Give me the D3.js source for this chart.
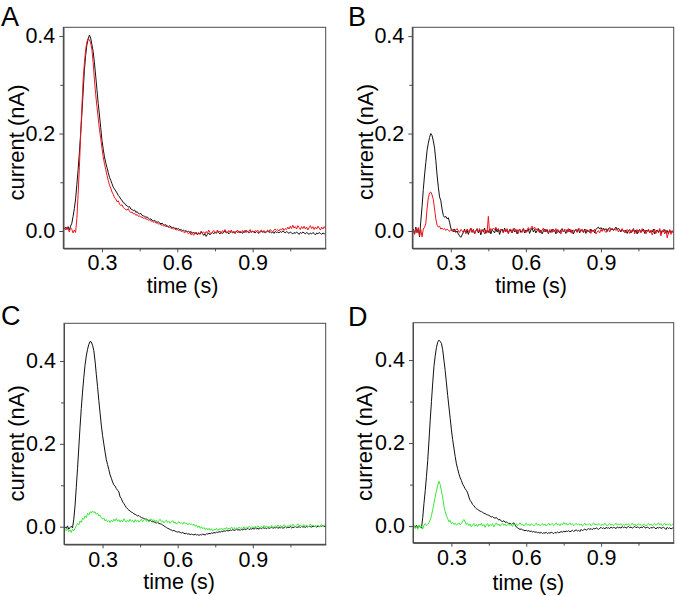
<!DOCTYPE html>
<html>
<head>
<meta charset="utf-8">
<script src="https://cdn.jsdelivr.net/npm/d3@7"></script>
<style>
  html, body { margin: 0; padding: 0; background: #fff; }
  svg { display: block; }
</style>
</head>
<body>
<svg id="chart" width="677" height="596"></svg>
<script>
// ---------------- data ----------------
// sampling grid of the traces (s): t = sampleStart + i * sampleStep
const sampleStart = 0.15;
const sampleStep = 0.005;

const timeTicks = [0.3, 0.6, 0.9];
const timeMinorTicks = [0.45, 0.75, 1.05];
const currentTicks = [0.0, 0.2, 0.4];
const currentMinorTicks = [0.1, 0.3];
const panelLetters = ["A", "B", "C", "D"];
const xLabel = "time (s)";
const yLabel = "current (nA)";

// Panel A (nA)
const panelABlack = [
 .004,.008,.003,.009,.002,.010,
 .016,.030,.046,.066,.095,.126,.160,.200,.240,.285,.330,.360,.382,.394,.402,
 .396,.382,.368,.345,.318,.290,.262,.238,.212,.186,.168,.152,.140,.130,.120,.110,.104,.097,.090,.086,
 .082,.078,.073,.070,.065,.063,.058,.057,.053,.052,.049,.050,.045,.044,.042,.043,.038,.040,.036,.035,
 .036,.032,.031,.030,.028,.029,.026,.024,.025,.022,.021,.022,.019,.018,.019,.016,.015,.016,.013,.012,
 .013,.010,.009,.011,.008,.007,.008,.005,.006,.004,.005,.002,.003,.001,.002,-.001,.001,-.002,.000,-.003,
 -.001,-.005,-.002,-.006,-.003,-.008,-.004,-.007,-.002,-.005,
 -.009,-.006,-.011,-.007,-.004,-.008,-.005,-.003,-.006,-.002,
 -.005,-.001,-.004,-.006,-.002,-.005,-.003,.000,-.004,-.002,
 -.006,-.003,-.001,-.004,-.002,-.005,.000,-.003,-.001,-.004,
 -.002,-.005,-.001,-.003,.001,-.002,-.004,-.001,-.003,.000,
 -.002,-.004,-.001,-.003,-.005,-.002,.000,-.003,-.001,-.004,
 -.002,.000,-.003,-.001,-.004,-.002,-.005,-.001,-.003,-.002,
 -.004,-.001,-.003,.000,-.002,-.004,-.001,-.003,-.005,-.002,
 -.004,-.006,-.003,-.005,-.002,-.004,-.007,-.003,-.005,-.002,
 -.004,-.006,-.003,-.005,-.007,-.004,-.006,-.003,-.005,-.008,
 -.004,-.006,-.003,-.005,-.007,-.004,-.006,-.005
];
const panelARed = [
 .006,.002,.008,.004,-.002,.007,
 .003,-.004,.002,-.003,
 .025,.075,.130,.195,.255,.310,.345,.372,.388,.395,
 .392,.386,.372,.345,.310,.280,.255,.232,.208,.190,
 .170,.152,.138,.126,.114,.104,.094,.088,.080,.075,
 .068,.066,.060,.062,.055,.052,.054,.048,.046,.044,
 .043,.046,.040,.038,.039,.035,.036,.032,.034,.030,.031,
 .028,.029,.026,.027,.024,.025,.022,.023,.020,.021,.018,.019,.016,.017,.014,.015,.012,.013,.010,.011,
 .009,.010,.007,.008,.005,.006,.004,.005,.002,.003,.001,.002,-.001,.000,-.002,-.004,.000,-.003,-.006,-.002,
 -.008,-.004,-.009,-.005,-.002,-.007,-.003,-.006,.000,-.004,
 -.002,-.006,-.001,-.005,.002,-.003,-.006,-.002,.001,-.004,
 -.001,.002,-.003,.000,-.005,.001,-.002,.003,-.001,-.004,
 .001,-.002,.002,-.003,.000,-.005,-.001,.002,-.003,.000,
 -.004,.001,-.002,.002,-.003,.000,-.001,.003,-.002,.000,
 -.003,.001,-.001,.002,-.004,.000,.002,-.002,.001,-.003,
 .000,.002,-.001,.003,.000,-.002,.002,.004,.001,.003,
 .000,.004,.002,.006,.001,.005,.003,.008,.004,.010,
 .005,.012,.006,.009,.004,.011,.007,.003,.009,.005,
 .010,.004,.008,.002,.007,.011,.005,.009,.003,.008,
 .004,.010,.006,.002,.008,.004,.009,.005
];

// Panel B (nA)
const panelBBlack = [
 .004,-.006,.008,-.003,.005,
 -.012,
 .020,.050,.085,.115,.140,.165,.180,.192,.200,.196,
 .185,.170,.145,.115,.090,.070,.062,.045,.032,.028,
 .030,.025,.027,.018,.006,.002,-.002,.004,-.003,.000,
 -.006,-.010,-.013,-.008,-.003,
 .004,-.005,.002,-.007,.001,.006,-.003,.003,-.006,.000,
 .005,-.004,.002,-.008,.003,-.002,.006,-.005,.001,-.003,
 .004,-.006,.002,.000,-.004,.005,-.002,.003,-.007,.001,
 .004,-.003,.006,-.001,.002,-.005,.003,.000,-.004,.005,
 -.002,.003,-.006,.001,.004,-.003,.000,.005,-.004,.002,
 -.001,.004,-.005,.002,.006,-.002,.003,-.004,.001,.005,
 -.003,.002,-.006,.000,.004,-.002,.003,-.005,.001,-.003,
 .004,-.001,.002,-.006,.003,.000,-.004,.002,.005,-.002,
 .001,-.005,.003,-.001,.004,-.003,.002,-.006,.000,.003,
 -.002,.005,-.004,.001,.003,-.002,.004,-.005,.002,.000,
 -.003,.004,-.001,.002,-.004,.003,.006,.008,.004,.007,
 .003,.006,.002,.005,-.001,.004,.007,.002,.005,.001,
 .004,.008,.003,.006,.002,-.002,.004,.000,-.003,.002,
 -.005,.001,.003,-.004,.000,.005,-.002,.002,-.006,.001,
 .003,-.003,.000,.004,-.005,.002,-.001,.003,-.004,.001,
 -.002,.004,-.006,.000,.002,-.003,.003,-.005,.001,-.002,
 .003,-.004,.001,-.006,.002,-.003,.000,-.004
];
const panelBRed = [
 .002,-.007,.005,-.004,.007,-.010,.003,-.012,.004,.008,
 .015,.045,.068,.078,.080,.074,.065,.045,.025,.012,.008,.010,.004,.006,
 .003,.005,.001,.004,.002,-.001,.003,.000,.004,-.002,.002,.005,.000,-.003,.003,.001,-.004,
 .002,-.005,.004,.000,-.003,.006,-.002,.003,-.006,.001,
 .004,-.002,.005,-.004,.001,.003,-.006,.002,-.003,.030,
 -.004,.005,.002,.006,.003,.008,.002,.005,-.001,.004,
 .000,-.004,.003,-.002,.005,-.005,.002,.004,-.003,.001,
 .006,-.002,.003,-.005,.004,.001,-.003,.005,.000,-.004,
 .003,.007,.002,.006,.010,.004,.008,.002,.005,-.001,
 .003,-.004,.002,.006,-.002,.004,.000,-.005,.003,.001,
 -.003,.004,-.001,.005,-.004,.002,.000,-.006,.003,-.002,
 .004,.001,-.003,.005,-.002,.003,-.005,.002,.000,.004,
 -.003,.002,.005,-.001,.003,-.004,.001,.004,-.002,.000,
 .003,-.005,.002,-.001,.004,-.006,-.002,.001,-.004,.003,
 -.001,.004,.000,-.003,.002,.005,-.002,.003,.006,.002,
 .005,.001,.004,-.002,.003,.000,.005,-.001,.002,-.004,
 .003,.000,-.005,.002,-.002,.004,-.006,.001,.003,-.004,
 .002,-.003,.005,-.001,.002,-.006,.000,.003,-.004,.002,
 -.008,-.002,.004,-.005,.001,-.003,.005,-.010,-.001,.003,
 -.006,.002,-.014,-.004,.003,-.007,.001,-.005
];

// Panel C (nA)
const panelCBlack = [
 .000,-.004,.002,-.006,-.002,.001,-.003,
 .018,.050,.095,.140,.190,.240,.285,.325,.360,.390,
 .412,.428,.440,.447,.446,.438,.425,.400,.368,.338,
 .305,.275,.245,.220,.200,.180,.162,.150,.138,.125,
 .117,.108,.101,.098,.092,.088,.084,.072,.068,.060,
 .056,.051,.046,.043,
 .040,.038,.035,.034,.031,.030,.028,.026,.027,.024,
 .022,.021,.020,.018,.019,.016,.015,.016,.013,.012,
 .012,.010,.009,.010,.008,.007,.006,.004,.002,.000,
 -.002,-.004,-.005,-.007,-.008,-.010,-.009,-.011,-.012,-.013,
 -.012,-.014,-.015,-.014,-.016,-.017,-.016,-.018,-.017,-.019,
 -.018,-.019,-.020,-.018,-.020,-.019,-.021,-.019,-.020,-.018,
 -.019,-.020,-.017,-.018,-.016,-.017,-.015,-.016,-.014,-.015,
 -.013,-.014,-.012,-.013,-.011,-.012,-.010,-.011,-.009,-.010,
 -.010,-.008,-.009,-.007,-.009,-.008,-.006,-.008,-.007,-.009,
 -.006,-.008,-.005,-.007,-.006,-.004,-.007,-.005,-.006,-.004,
 -.006,-.003,-.005,-.004,-.006,-.003,-.005,-.002,-.004,-.003,
 -.005,-.002,-.004,-.003,-.001,-.004,-.002,-.003,-.001,-.004,
 -.002,-.003,-.001,-.004,-.002,.000,-.003,-.001,-.002,.000,
 -.003,-.001,-.002,.001,-.002,-.001,.000,-.002,.001,-.001,
 .000,-.002,.001,-.001,.002,.000,-.001,.001,.000,.002,
 -.001,.001,.000,.002,.001,.003,.000,.002
];
const panelCGreen = [
 -.006,-.010,-.004,-.012,-.008,-.014,-.006,-.010,-.004,.002,
 .008,.004,.014,.010,.020,.018,.026,.022,.032,.028,
 .036,.033,.038,.034,.036,.030,.033,.026,.028,.022,
 .018,.021,.014,.017,.012,.015,.010,.016,.012,.018,.014,
 .020,.013,.017,.011,.016,.012,.019,.014,.011,.016,
 .012,.018,.013,.015,.010,.017,.012,.016,.011,.014,
 .018,.012,.016,.020,.013,.017,.011,.015,.019,.014,
 .017,.012,.016,.010,.015,.018,.012,.014,.009,.013,
 .016,.010,.013,.008,.012,.015,.009,.011,.006,.010,
 .012,.008,.010,.006,.011,.007,.009,.004,.008,.005,
 .007,.003,.006,.001,.004,-.002,.002,-.004,.000,-.005,
 -.002,-.007,-.003,-.008,-.004,-.009,-.005,-.010,-.006,-.008,
 -.004,-.009,-.005,-.007,-.003,-.008,-.004,-.006,-.002,-.007,
 -.003,-.006,-.001,-.005,-.002,-.006,-.003,-.005,-.001,-.004,
 -.002,-.005,.000,-.004,-.001,-.003,.001,-.002,-.004,.000,
 -.003,.001,-.002,.002,-.001,-.004,.001,-.002,.003,-.001,
 .002,-.002,.001,-.003,.003,.000,-.002,.002,-.001,.004,
 .000,.003,-.002,.002,.005,.001,-.001,.003,.000,.004,
 .001,.006,.002,-.001,.003,.007,.002,.004,.000,.003,
 .005,.001,.004,-.001,.002,.006,.002,.004,.000,.003,
 .001,.004,-.001,.003,.005,.001,.004,.002
];

// Panel D (nA)
const panelDBlack = [
 .001,-.003,.002,-.004,.000,-.002,-.005,
 .020,.055,.085,.120,.158,.205,.255,.300,.345,.385,
 .410,.430,.443,.448,.445,.440,.425,.400,.375,.345,
 .315,.287,.260,.232,.208,.188,.168,.150,.138,.126,
 .116,.110,.101,.096,.090,.086,.080,.070,.062,.058,
 .052,.049,.045,.042,
 .040,.038,.036,.035,.033,.031,.030,.028,.027,.026,
 .024,.022,.023,.020,.019,.021,.017,.015,.016,.012,
 .011,.013,.009,.010,.008,.006,.007,.004,.006,.008,
 .003,-.002,-.004,-.006,-.008,-.007,-.009,-.010,-.011,-.010,
 -.012,-.011,-.013,-.012,-.014,-.013,-.015,-.014,-.016,-.015,
 -.017,-.015,-.018,-.016,-.017,-.015,-.018,-.016,-.017,-.015,
 -.016,-.018,-.015,-.017,-.014,-.016,-.015,-.013,-.015,-.012,
 -.014,-.012,-.013,-.011,-.014,-.012,-.010,-.013,-.011,-.009,
 -.012,-.010,-.013,-.008,-.011,-.009,-.007,-.010,-.008,-.006,
 -.008,-.006,-.009,-.005,-.007,-.004,-.006,-.008,-.005,-.003,
 -.006,-.004,-.007,-.003,-.005,-.004,-.006,-.002,-.005,-.003,
 -.004,-.006,-.002,-.004,-.003,-.005,-.001,-.004,-.002,-.005,
 -.003,-.001,-.004,-.002,-.005,-.003,-.001,-.004,-.002,-.003,
 -.005,-.002,-.004,-.001,-.003,-.005,-.002,-.004,-.006,-.003,
 -.005,-.002,-.004,-.007,-.003,-.005,-.002,-.006,-.004,-.003,
 -.005,-.008,-.003,-.006,-.004,-.007,-.005,-.004
];
const panelDGreen = [
 .002,-.006,-.001,-.008,.003,-.004,.000,-.007,.002,.006,.001,.004,.008,
 .015,.025,.040,.055,.070,.085,.098,.108,.100,.085,.068,.048,.035,.025,.018,.010,.014,.006,
 .009,.004,.007,.002,.005,.008,.003,.006,.012,.016,
 .010,.004,.007,.001,.005,-.002,.003,.006,.000,.004,
 -.001,.005,.002,.007,.000,.004,-.003,.003,.006,-.001,
 .004,.001,.006,-.002,.003,.008,.002,.005,.000,.004,
 .007,.002,.005,.000,.003,.006,.001,.004,-.001,.005,
 .002,.006,.001,.004,.008,.003,.005,.000,.004,.007,
 .002,.005,.001,.006,.003,.000,.004,.007,.002,.005,
 .001,.004,.006,.002,.005,.000,.003,.007,.002,.004,
 .006,.001,.004,.008,.003,.005,.001,.006,.003,.009,
 .004,.007,.002,.005,.008,.003,.006,.001,.004,.007,
 .003,.006,.002,.005,.000,.004,.007,.002,.005,.003,
 .006,.001,.004,.008,.003,.005,.002,.006,.004,.001,
 .005,.002,.007,.003,.000,.004,.006,.002,.005,.001,
 .004,.007,.002,.005,.003,.006,.001,.004,.002,.005,
 .003,.006,.001,.004,.007,.002,.005,.000,.003,.006,
 .002,.004,.001,.005,.003,.000,.004,.007,.002,.005,
 .001,.004,.006,.002,.005,.008,.003,.006,.001,.004,
 .007,.002,.005,.003,.006,.001,.004,.003
];

// ---------------- layout ----------------
const BLACK = "#111111", RED = "#f0141e", GREEN = "#3ae63a", AXIS = "#4a4a4a";
const FONT = "'Liberation Sans', Arial, Helvetica, sans-serif";
const xDomain = [0.146, 1.191];

const panels = [
  { letter: panelLetters[0], left: 63.3, right: 325.7, top: 27.3, bottom: 248.3, yDomain: [-0.0355, 0.418],
    letterPos: [1, 26], yLabelPos: [24, 142.5], xLabelPos: [182.5, 293], tickPad: 2,
    series: [{ values: panelABlack, color: BLACK }, { values: panelARed, color: RED }] },
  { letter: panelLetters[1], left: 412.3, right: 673.7, top: 27.3, bottom: 248.3, yDomain: [-0.0355, 0.418],
    letterPos: [348, 26], yLabelPos: [372.5, 142], xLabelPos: [531.2, 293], tickPad: 2,
    series: [{ values: panelBBlack, color: BLACK }, { values: panelBRed, color: RED }] },
  { letter: panelLetters[2], left: 64, right: 325.7, top: 323.3, bottom: 544.3, yDomain: [-0.0425, 0.491],
    letterPos: [1, 325], yLabelPos: [24, 443.3], xLabelPos: [179.2, 589], tickPad: 3,
    series: [{ values: panelCBlack, color: BLACK }, { values: panelCGreen, color: GREEN }] },
  { letter: panelLetters[3], left: 413, right: 673.7, top: 322.7, bottom: 542.7, yDomain: [-0.040, 0.490],
    letterPos: [348, 326], yLabelPos: [372, 443], xLabelPos: [528.3, 589.5], tickPad: 3,
    series: [{ values: panelDBlack, color: BLACK }, { values: panelDGreen, color: GREEN }] }
];

const svg = d3.select("#chart");
svg.append("rect").attr("width", 677).attr("height", 596).attr("fill", "#fff");

panels.forEach((p, pi) => {
  const x = d3.scaleLinear().domain(xDomain).range([p.left, p.right]);
  const y = d3.scaleLinear().domain(p.yDomain).range([p.bottom, p.top]);
  const g = svg.append("g");

  const clipId = "clip" + pi;
  svg.append("clipPath").attr("id", clipId)
    .append("rect").attr("x", p.left).attr("y", p.top)
    .attr("width", p.right - p.left).attr("height", p.bottom - p.top);

  const line = d3.line()
    .x((d, i) => x(sampleStart + i * sampleStep))
    .y(d => y(d));

  const traces = g.append("g").attr("clip-path", `url(#${clipId})`);
  p.series.forEach(s => {
    traces.append("path")
      .datum(s.values)
      .attr("fill", "none")
      .attr("stroke", s.color)
      .attr("stroke-width", 1)
      .attr("stroke-linejoin", "round")
      .attr("d", line);
  });

  // frame
  g.append("rect")
    .attr("x", p.left).attr("y", p.top)
    .attr("width", p.right - p.left).attr("height", p.bottom - p.top)
    .attr("fill", "none").attr("stroke", AXIS).attr("stroke-width", 1);

  // x axis
  const xAxis = g.append("g").attr("transform", `translate(0,${p.bottom})`)
    .call(d3.axisBottom(x).tickValues(timeTicks).tickSizeInner(4).tickSizeOuter(0).tickPadding(p.tickPad)
      .tickFormat(d3.format(".1f")));
  const xMinor = g.append("g").attr("transform", `translate(0,${p.bottom})`)
    .call(d3.axisBottom(x).tickValues(timeMinorTicks).tickSizeInner(3).tickSizeOuter(0).tickFormat(""));

  // y axis
  const yAxis = g.append("g").attr("transform", `translate(${p.left},0)`)
    .call(d3.axisLeft(y).tickValues(currentTicks).tickSizeInner(4).tickSizeOuter(0).tickPadding(4)
      .tickFormat(d3.format(".1f")));
  const yMinor = g.append("g").attr("transform", `translate(${p.left},0)`)
    .call(d3.axisLeft(y).tickValues(currentMinorTicks).tickSizeInner(3).tickSizeOuter(0).tickFormat(""));

  [xAxis, xMinor, yAxis, yMinor].forEach(a => {
    a.select(".domain").attr("stroke", AXIS);
    a.selectAll(".tick line").attr("stroke", AXIS);
    a.selectAll("text").attr("font-family", FONT).attr("font-size", 21.5).attr("fill", "#000");
    a.attr("font-family", FONT).attr("font-size", 21.5);
  });

  // labels
  g.append("text")
    .attr("x", p.xLabelPos[0]).attr("y", p.xLabelPos[1])
    .attr("text-anchor", "middle")
    .attr("font-family", FONT).attr("font-size", 21.5).attr("fill", "#000")
    .text(xLabel);

  g.append("text")
    .attr("transform", `translate(${p.yLabelPos[0]},${p.yLabelPos[1]}) rotate(-90)`)
    .attr("text-anchor", "middle")
    .attr("font-family", FONT).attr("font-size", 22).attr("fill", "#000")
    .text(yLabel);

  g.append("text")
    .attr("x", p.letterPos[0]).attr("y", p.letterPos[1])
    .attr("font-family", FONT).attr("font-size", 27).attr("fill", "#000")
    .text(p.letter);
});
</script>
</body>
</html>
